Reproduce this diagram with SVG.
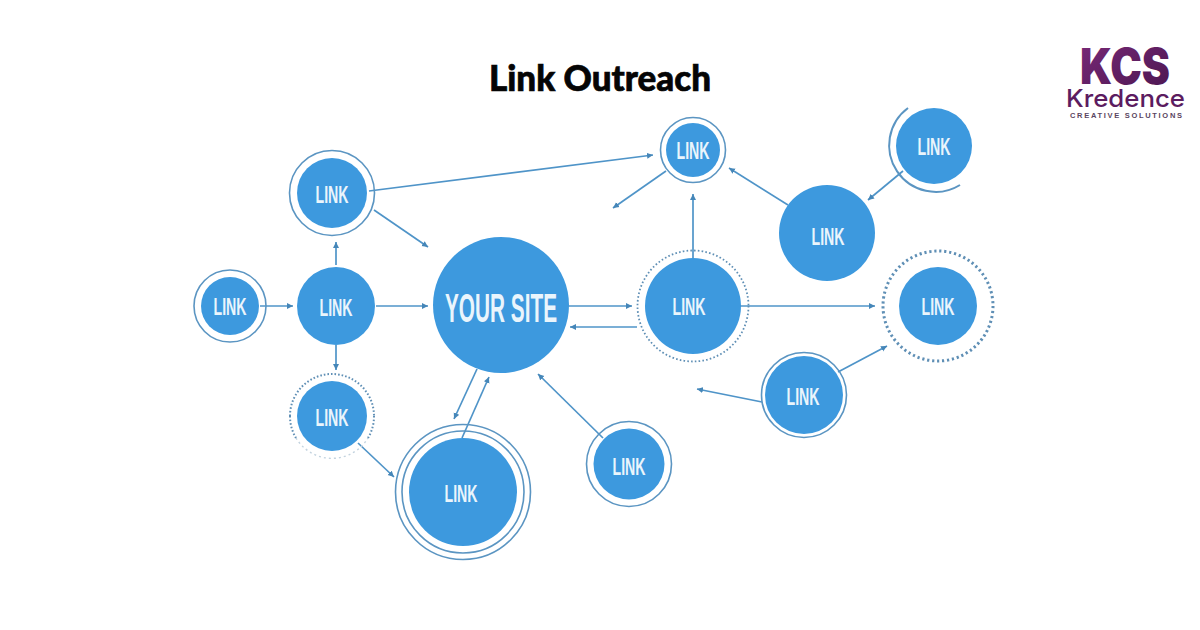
<svg xmlns="http://www.w3.org/2000/svg" width="1200" height="630" viewBox="0 0 1200 630">
<style>
.fill{fill:#3d99de}
.ring{fill:none;stroke:#5b95c2;stroke-width:1.6}
.dots{fill:none;stroke:#5f8fb5;stroke-width:2;stroke-dasharray:1.6 2}
.dotsB{fill:none;stroke:#5f8fb5;stroke-width:3;stroke-dasharray:2.2 2.8}
.dotsL{fill:none;stroke:#c3d3df;stroke-width:1.4;stroke-dasharray:2 3}
.t{font-family:"Liberation Sans",Arial,sans-serif;font-weight:700;font-size:24px;fill:#eaf5fc;text-anchor:middle}
.c{fill:none;stroke:#4f94c8;stroke-width:1.7;marker-end:url(#a)}
</style>
<defs>
<marker id="a" markerUnits="userSpaceOnUse" markerWidth="8" markerHeight="7" refX="6" refY="3.500" orient="auto"><path d="M0 0.500L6 3.500L0 6.500Z" fill="#4586b8"/></marker>
<linearGradient id="kcs" x1="0" y1="0" x2="1" y2="1"><stop offset="0" stop-color="#7a2a78"/><stop offset="1" stop-color="#4a1650"/></linearGradient>
</defs>
<rect width="1200" height="630" fill="#fff"/>
<text id="title" x="600" y="91" font-family="Lato,'Liberation Sans',sans-serif" font-weight="900" font-size="36" fill="#050505" stroke="#050505" stroke-width="0.7" text-anchor="middle" textLength="222" lengthAdjust="spacingAndGlyphs">Link Outreach</text>
<g id="logo">
<text x="1125" y="84" font-family="Inter,'Liberation Sans',sans-serif" font-weight="900" font-size="50" fill="url(#kcs)" text-anchor="middle" textLength="90" lengthAdjust="spacingAndGlyphs">KCS</text>
<text x="1125.500" y="107" font-family="Inter,'Liberation Sans',sans-serif" font-weight="500" font-size="24" fill="#5c1c60" text-anchor="middle" textLength="119" lengthAdjust="spacingAndGlyphs">Kredence</text>
<text x="1126" y="118" font-family="'Liberation Sans',sans-serif" font-weight="700" font-size="7.500" fill="#5a4560" text-anchor="middle" textLength="112" lengthAdjust="spacing">CREATIVE SOLUTIONS</text>
</g>
<g id="connectors">
<path class="c" d="M260 306H293"/>
<path class="c" d="M376 306H428"/>
<path class="c" d="M336 265V242"/>
<path class="c" d="M336 345V370"/>
<path class="c" d="M374 210L428 247"/>
<path class="c" d="M369 191L653 155"/>
<path class="c" d="M666 171L613 208"/>
<path class="c" d="M693 258V194"/>
<path class="c" d="M788 205L729 168"/>
<path class="c" d="M903 171L868 200"/>
<path class="c" d="M567 306H632"/>
<path class="c" d="M637 327H570"/>
<path class="c" d="M740 306H875"/>
<path class="c" d="M838 372L887 346"/>
<path class="c" d="M762 402L697 389"/>
<path class="c" d="M603 438L538 374"/>
<path class="c" d="M477 369L454 419"/>
<path class="c" d="M462 438L489 377"/>
<path class="c" d="M358 443L394 477"/>
</g>
<g id="node-your-site"><circle class="fill" cx="501" cy="305" r="68"/><text class="t" x="501" y="322" style="font-size:40px" textLength="112" lengthAdjust="spacingAndGlyphs">YOUR SITE</text></g>
<g id="node-top-left"><circle class="ring" cx="332" cy="193" r="42.500"/><circle class="fill" cx="332" cy="193" r="35"/><text class="t" x="332" y="203" textLength="33" lengthAdjust="spacingAndGlyphs">LINK</text></g>
<g id="node-left"><circle class="ring" cx="230" cy="306" r="36"/><circle class="fill" cx="230" cy="306" r="29"/><text class="t" x="230" y="315" textLength="33" lengthAdjust="spacingAndGlyphs">LINK</text></g>
<g id="node-mid-left"><circle class="fill" cx="336" cy="306" r="39"/><text class="t" x="336" y="316" textLength="33" lengthAdjust="spacingAndGlyphs">LINK</text></g>
<g id="node-lower-left"><path class="dots" d="M290 416A42 42 0 0 1 374 416"/><path class="dots" d="M290 416A42 42 0 0 0 296 438"/><path class="dots" d="M374 416A42 42 0 0 1 368 438"/><path class="dotsL" d="M296 438A42 42 0 0 0 368 438"/><circle class="fill" cx="332" cy="416" r="35"/><text class="t" x="332" y="426" textLength="33" lengthAdjust="spacingAndGlyphs">LINK</text></g>
<g id="node-bottom"><circle class="ring" cx="463" cy="492" r="67.500"/><circle class="ring" cx="463" cy="492" r="61"/><circle class="fill" cx="463" cy="492" r="54"/><text class="t" x="461" y="502" textLength="33" lengthAdjust="spacingAndGlyphs">LINK</text></g>
<g id="node-bottom-right"><circle class="ring" cx="629" cy="464" r="42.500"/><circle class="fill" cx="629" cy="464" r="35.500"/><text class="t" x="629" y="475" textLength="33" lengthAdjust="spacingAndGlyphs">LINK</text></g>
<g id="node-top-center"><circle class="ring" cx="693" cy="150" r="32.500"/><circle class="fill" cx="693" cy="150" r="27"/><text class="t" x="693" y="159" textLength="33" lengthAdjust="spacingAndGlyphs">LINK</text></g>
<g id="node-top-right"><path class="ring" d="M908 108A46.500 46.500 0 0 0 960 185" style="stroke-width:2"/><circle class="fill" cx="934" cy="146" r="38"/><text class="t" x="934" y="155" textLength="33" lengthAdjust="spacingAndGlyphs">LINK</text></g>
<g id="node-right-big"><circle class="fill" cx="827" cy="233" r="48"/><text class="t" x="828" y="245" textLength="33" lengthAdjust="spacingAndGlyphs">LINK</text></g>
<g id="node-center-right"><circle class="dots" cx="693" cy="306" r="55.500" style="stroke-width:1.8;stroke-dasharray:1.6 2.2"/><circle class="fill" cx="693" cy="306" r="48"/><text class="t" x="689" y="315" textLength="33" lengthAdjust="spacingAndGlyphs">LINK</text></g>
<g id="node-far-right"><circle class="dotsB" cx="938" cy="306" r="55"/><circle class="fill" cx="938" cy="306" r="39"/><text class="t" x="938" y="315" textLength="33" lengthAdjust="spacingAndGlyphs">LINK</text></g>
<g id="node-lower-right"><circle class="ring" cx="804" cy="395" r="42.500"/><circle class="fill" cx="804" cy="395" r="39"/><text class="t" x="803" y="405" textLength="33" lengthAdjust="spacingAndGlyphs">LINK</text></g>
</svg>
